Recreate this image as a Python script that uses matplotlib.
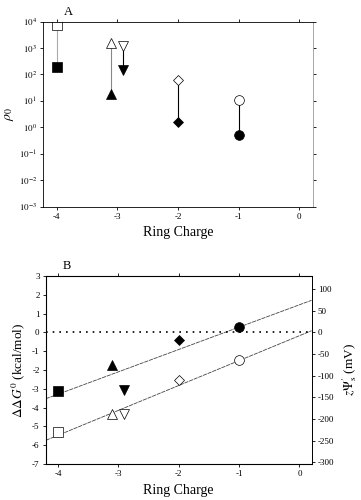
import matplotlib
matplotlib.use("Agg")
import matplotlib.pyplot as plt
import numpy as np

plt.rcParams["font.family"] = ["Liberation Serif", "DejaVu Serif"]
plt.rcParams["mathtext.fontset"] = "stix"
plt.rcParams["axes.unicode_minus"] = False

# panel A: rho_0 at each ring charge, open = upper value, filled = lower value
charges = [-4, -3.1, -2.9, -2, -1]
markers = ["s", "^", "v", "D", "o"]
rho_open = [7.5e3, 1.6e3, 1.2e3, 60, 11]
rho_filled = [190, 18, 150, 1.6, 0.5]
stem_colors = ["#aaaaaa", "#888888", "#000000", "#000000", "#000000"]

# panel B: ddG0 (kcal/mol)
dg_open = [-5.3, -4.34, -4.34, -2.51, -1.49]
dg_filled = [-3.1, -1.72, -3.08, -0.39, 0.29]
# straight lines (slope, intercept)
fit_filled = (1.19, 1.47)
fit_open = (1.325, -0.175)

MV_PER_KCAL = 43.37

TICK = dict(direction="out", length=2.5, width=0.6, labelsize=6.5, pad=2)
MSIZE = {"s": 6.5, "^": 6.5, "v": 6.5, "D": 5.5, "o": 7}

fig = plt.figure(figsize=(3.61, 5.0), dpi=100)

# ---- panel A
ax1 = fig.add_axes([0.12, 0.587, 0.746, 0.37])
for x, m, yo, yf, c in zip(charges, markers, rho_open, rho_filled, stem_colors):
    ax1.plot([x, x], [yo, yf], color=c, lw=0.8, zorder=1)
    ax1.plot(x, yo, marker=m, ms=MSIZE[m], mfc="white", mec="black", mew=0.5, zorder=2)
    ax1.plot(x, yf, marker=m, ms=MSIZE[m], mfc="black", mec="black", mew=0.5, zorder=2)
ax1.set_yscale("log")
ax1.set_xlim(-4.22, 0.22)
ax1.set_ylim(1e-3, 1e4)
ax1.set_yticks([10.0 ** k for k in range(-3, 5)])
ax1.set_yticklabels([r"$10^{%d}$" % k for k in range(-3, 5)])
ax1.minorticks_off()
ax1.set_xticks([-4, -3, -2, -1, 0])
ax1.tick_params(axis="both", which="both", top=True, right=True, **TICK)
for s in ax1.spines.values():
    s.set_linewidth(0.6)
ax1.spines["right"].set_color("#999999")
ax1.set_xlabel("Ring Charge", fontsize=10, labelpad=4)
ax1.set_ylabel(r"$\rho_0$", fontsize=10, labelpad=2)
ax1.text(-3.8, 1.02, "A", transform=ax1.get_xaxis_transform(), fontsize=9,
         ha="center", va="bottom")

# ---- panel B
ax2 = fig.add_axes([0.127, 0.072, 0.736, 0.376])
xs = np.array([-4.2, 0.2])
for slope, icpt in (fit_filled, fit_open):
    ax2.plot(xs, slope * xs + icpt, color="#444444", lw=0.6, ls=(0, (5, 1)), zorder=1)
ax2.plot(xs, [0, 0], color="black", lw=1.2, ls=(0, (1, 3)), zorder=1)
for x, m, yo, yf in zip(charges, markers, dg_open, dg_filled):
    ax2.plot(x, yo, marker=m, ms=MSIZE[m], mfc="white", mec="black", mew=0.5, zorder=2)
    ax2.plot(x, yf, marker=m, ms=MSIZE[m], mfc="black", mec="black", mew=0.5, zorder=2)
ax2.set_xlim(-4.2, 0.2)
ax2.set_ylim(-7, 3)
ax2.set_yticks(range(-7, 4))
ax2.set_xticks([-4, -3, -2, -1, 0])
ax2.tick_params(axis="both", top=True, **TICK)
for s in ax2.spines.values():
    s.set_linewidth(0.6)
ax2.set_xlabel("Ring Charge", fontsize=10, labelpad=4)
ax2.set_ylabel(r"$\Delta\Delta G^0$ (kcal/mol)", fontsize=9.5, labelpad=4)
ax2.text(-3.85, 1.02, "B", transform=ax2.get_xaxis_transform(), fontsize=9,
         ha="center", va="bottom")

ax3 = ax2.twinx()
ax3.set_ylim(-7 * MV_PER_KCAL, 3 * MV_PER_KCAL)
ax3.set_yticks(range(-300, 101, 50))
ax3.tick_params(axis="y", **TICK)
ax3.spines["right"].set_linewidth(0.6)
ax3.set_ylabel(r"$z\Psi_{\rm s}^{\prime}$ (mV)", fontsize=9.5, labelpad=4)

fig.savefig("out.png", dpi=100)
